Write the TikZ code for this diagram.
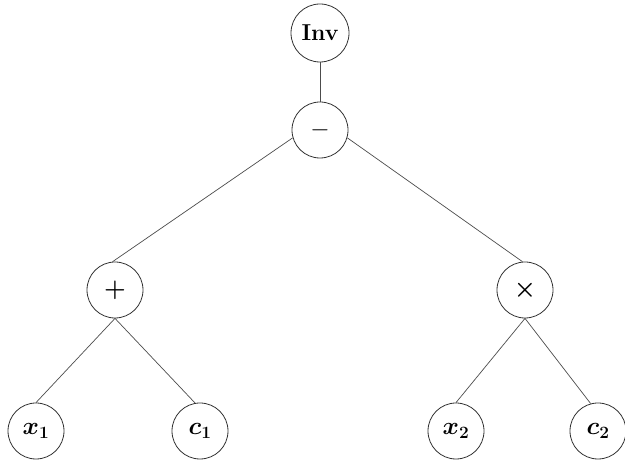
\documentclass[tikz,border=0pt]{standalone}
\begin{document}
\begin{tikzpicture}[x=1pt,y=-1pt,
  nd/.style={circle,draw=black!80,line width=0.8pt,minimum size=56pt,inner sep=0pt},
  lk/.style={draw=black!70,line width=0.7pt},
  txt/.style={font=\fontsize{23}{28}\selectfont\bfseries},
  mth/.style={font=\fontsize{25}{30}\selectfont\boldmath},
  op/.style={font=\fontsize{30}{34}\selectfont},
  opb/.style={font=\fontsize{30}{34}\selectfont\boldmath}]
\useasboundingbox (0,0) rectangle (625,462);
\node[nd,minimum size=58pt,txt] (inv) at (320,33) {Inv};
\node[nd,op] (minus) at (320,130) {$-$};
\node[nd,opb] (plus) at (115,290) {$+$};
\node[nd,opb] (times) at (525,290) {$\times$};
\node[nd,mth] (x1) at (36,431) {$x_1$};
\node[nd,mth] (c1) at (200,431) {$c_1$};
\node[nd,mth] (x2) at (456,431) {$x_2$};
\node[nd,mth] (c2) at (598,431) {$c_2$};
\draw[lk] (inv.south) -- (minus.north);
\draw[lk] (minus.196) -- (plus.95);
\draw[lk] (minus.-16) -- (times.95);
\draw[lk] (plus.south) -- (x1.north);
\draw[lk] (plus.south) -- (c1.100);
\draw[lk] (times.south) -- (x2.north);
\draw[lk] (times.south) -- (c2.105);
\end{tikzpicture}
\end{document}
